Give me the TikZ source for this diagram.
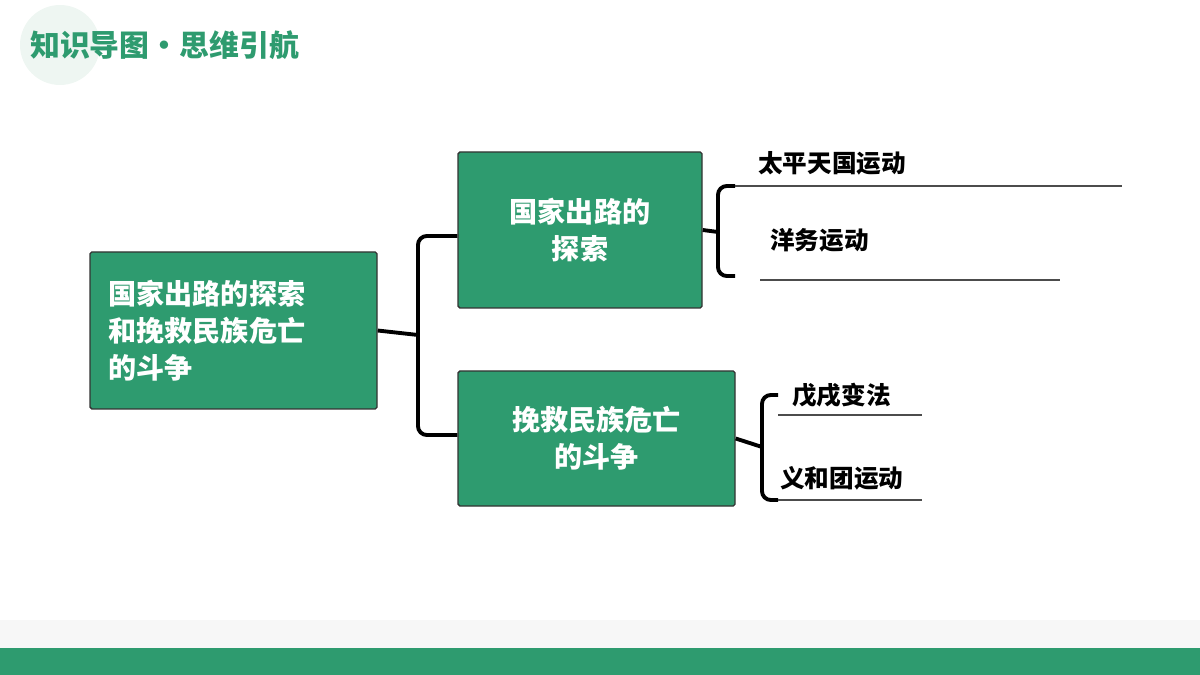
\documentclass[tikz,border=0pt]{standalone}
\usepackage{fontspec}
\setmainfont{Noto Sans CJK SC}
\definecolor{vert}{HTML}{2E9B6F}
\definecolor{pale}{HTML}{EEF6F2}
\begin{document}
\begin{tikzpicture}[x=0.02cm, y=-0.02cm]
			\tikzset{boite/.style={draw=black!80, thick, fill=vert, rounded corners=1pt, text=white, font=\fontsize{16}{21}\selectfont\bfseries, align=left, inner sep=0pt},
				item/.style={font=\fontsize{14}{17}\selectfont\bfseries, anchor=west},
				accolade/.style={line width=2.2pt, rounded corners=5pt},
				trait/.style={black!70, line width=0.6pt}};

			\useasboundingbox (0,0) rectangle (1200,675);
			\fill[pale] (60,45) circle (40);
			\node[anchor=west, text=vert, font=\fontsize{17}{20}\selectfont\bfseries] (titre) at (24,45) {知识导图·思维引航};
			\fill[black!3] (0,620) rectangle (1200,648);
			\fill[vert] (0,648) rectangle (1200,675);

			\node[boite, minimum width=287*0.02cm, minimum height=157*0.02cm, text width=250*0.02cm] (racine) at (233.5,330.5) {国家出路的探索\\和挽救民族危亡\\的斗争};
			\node[boite, minimum width=244*0.02cm, minimum height=156*0.02cm, align=center] (explo) at (580,230) {国家出路的\\探索};
			\node[boite, minimum width=277*0.02cm, minimum height=135*0.02cm, align=center] (lutte) at (596.5,438.5) {挽救民族危亡\\的斗争};

			\node[item] (taiping) at (752,163) {太平天国运动};
			\node[item] (yangwu) at (764,240) {洋务运动};
			\node[item] (wuxu) at (786,395) {戊戌变法};
			\node[item] (yihe) at (774,478) {义和团运动};

			% accolade principale
			\coordinate (m1) at (418,335);
			\draw[accolade] (racine.east) -- (m1);
			\draw[accolade] (explo.west |- 0,236) -- (418,236) -- (418,435) -- (lutte.west |- 0,435);

			% accolade du haut
			\draw[accolade] (explo.east) -- (718,232);
			\draw[accolade] (735,186) -- (718,186) -- (718,276) -- (735,276);
			\draw[trait] (735,186) -- (1122,186);
			\draw[trait] (760,280) -- (1060,280);

			% accolade du bas
			\draw[accolade] (lutte.east) -- (762,447);
			\draw[accolade] (778,395) -- (762,395) -- (762,500) -- (778,500);
			\draw[trait] (778,415) -- (922,415);
			\draw[trait] (778,500) -- (922,500);

		\end{tikzpicture}
\end{document}
